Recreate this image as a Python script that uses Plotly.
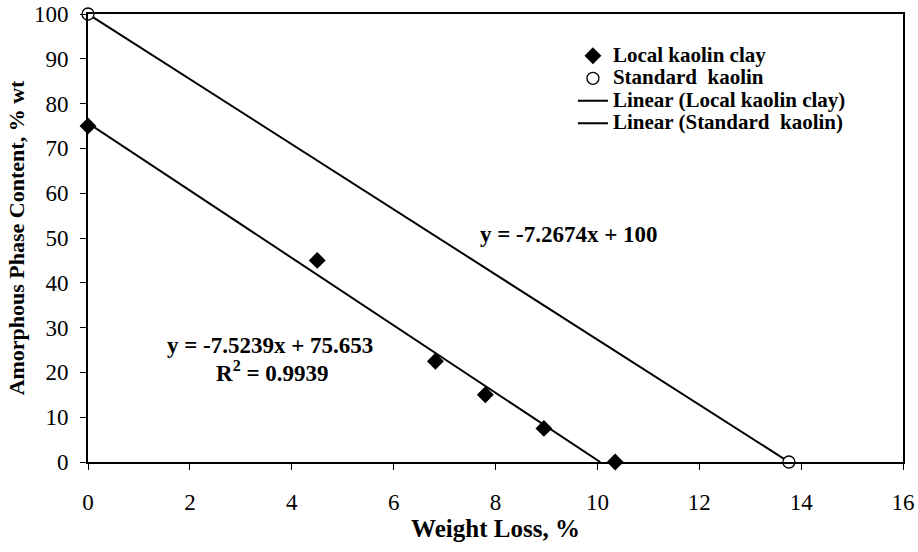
import plotly.graph_objects as go

# Measured samples
local_x = [0.0, 4.5, 6.82, 7.8, 8.95, 10.35]
local_y = [75.0, 45.0, 22.5, 15.0, 7.5, 0.0]
standard_x = [0.0, 13.76]
standard_y = [100.0, 0.0]

# Linear trend coefficients (slope, intercept)
local_fit = (-7.5239, 75.653)
standard_fit = (-7.2674, 100.0)

x_ticks = [0, 2, 4, 6, 8, 10, 12, 14, 16]
y_ticks = [0, 10, 20, 30, 40, 50, 60, 70, 80, 90, 100]

FONT = "Liberation Serif"


def trend(fit):
    slope, intercept = fit
    x_end = -intercept / slope
    return [0.0, x_end], [intercept, slope * x_end + intercept]


def legend_label(text):
    # larger glyphs on a compact legend row
    return f"<span style='font-size:21px'>{text}</span>"


lx, ly = trend(local_fit)
sx, sy = trend(standard_fit)

fig = go.Figure()
# Trend lines first so the markers are drawn on top of them
fig.add_trace(go.Scatter(
    x=lx, y=ly, mode="lines", name=legend_label("Linear (Local kaolin clay)"), legendrank=3,
    line=dict(color="black", width=2), cliponaxis=False))
fig.add_trace(go.Scatter(
    x=sx, y=sy, mode="lines", name=legend_label("Linear (Standard  kaolin)"), legendrank=4,
    line=dict(color="black", width=2), cliponaxis=False))
fig.add_trace(go.Scatter(
    x=local_x, y=local_y, mode="markers", name=legend_label("Local kaolin clay"), legendrank=1,
    marker=dict(symbol="diamond", size=13, color="black"), cliponaxis=False))
fig.add_trace(go.Scatter(
    x=standard_x, y=standard_y, mode="markers", name=legend_label("Standard  kaolin"), legendrank=2,
    marker=dict(symbol="circle", size=12, color="white", line=dict(width=1.3, color="black")),
    cliponaxis=False))

ann_font = dict(family=FONT, size=23, color="black")
fig.add_annotation(x=9.45, y=50.8, xref="x", yref="y", showarrow=False,
                   text="<b>y = -7.2674x + 100</b>", font=ann_font)
fig.add_annotation(x=3.57, y=26.0, xref="x", yref="y", showarrow=False,
                   text="<b>y = -7.5239x + 75.653</b>", font=ann_font)
fig.add_annotation(x=3.62, y=20.3, xref="x", yref="y", showarrow=False,
                   text="<b>R<sup>2</sup> = 0.9939</b>", font=ann_font)

fig.update_layout(
    width=918, height=552,
    margin=dict(l=88, r=15, t=14, b=90),
    paper_bgcolor="white", plot_bgcolor="white",
    font=dict(family=FONT, size=20, color="black"),
    legend=dict(
        x=0.595, y=0.943, xanchor="left", yanchor="top",
        traceorder="normal", bgcolor="rgba(0,0,0,0)",
        font=dict(family=FONT, size=15, color="black", weight="bold"),
        itemwidth=30,
    ),
    showlegend=True,
)

fig.update_xaxes(
    range=[0, 16], tickvals=x_ticks, ticktext=[str(v) for v in x_ticks],
    showgrid=False, zeroline=False, automargin=False,
    showline=True, linecolor="black", linewidth=2, mirror=True,
    ticks="outside", ticklen=6, tickwidth=1, tickcolor="black",
    tickfont=dict(family=FONT, size=23), ticklabelstandoff=12,
    title=dict(text="<b>Weight Loss, %</b>", font=dict(family=FONT, size=25), standoff=1),
)
fig.update_yaxes(
    range=[0, 100], tickvals=y_ticks, ticktext=[str(v) for v in y_ticks],
    showgrid=False, zeroline=False, automargin=False,
    showline=True, linecolor="black", linewidth=2, mirror=True,
    ticks="outside", ticklen=6, tickwidth=1, tickcolor="black",
    tickfont=dict(family=FONT, size=23), ticklabelstandoff=7,
    title=dict(text="<b>Amorphous Phase Content, % wt</b>", font=dict(family=FONT, size=22), standoff=3),
)

fig.write_html("out.html")
